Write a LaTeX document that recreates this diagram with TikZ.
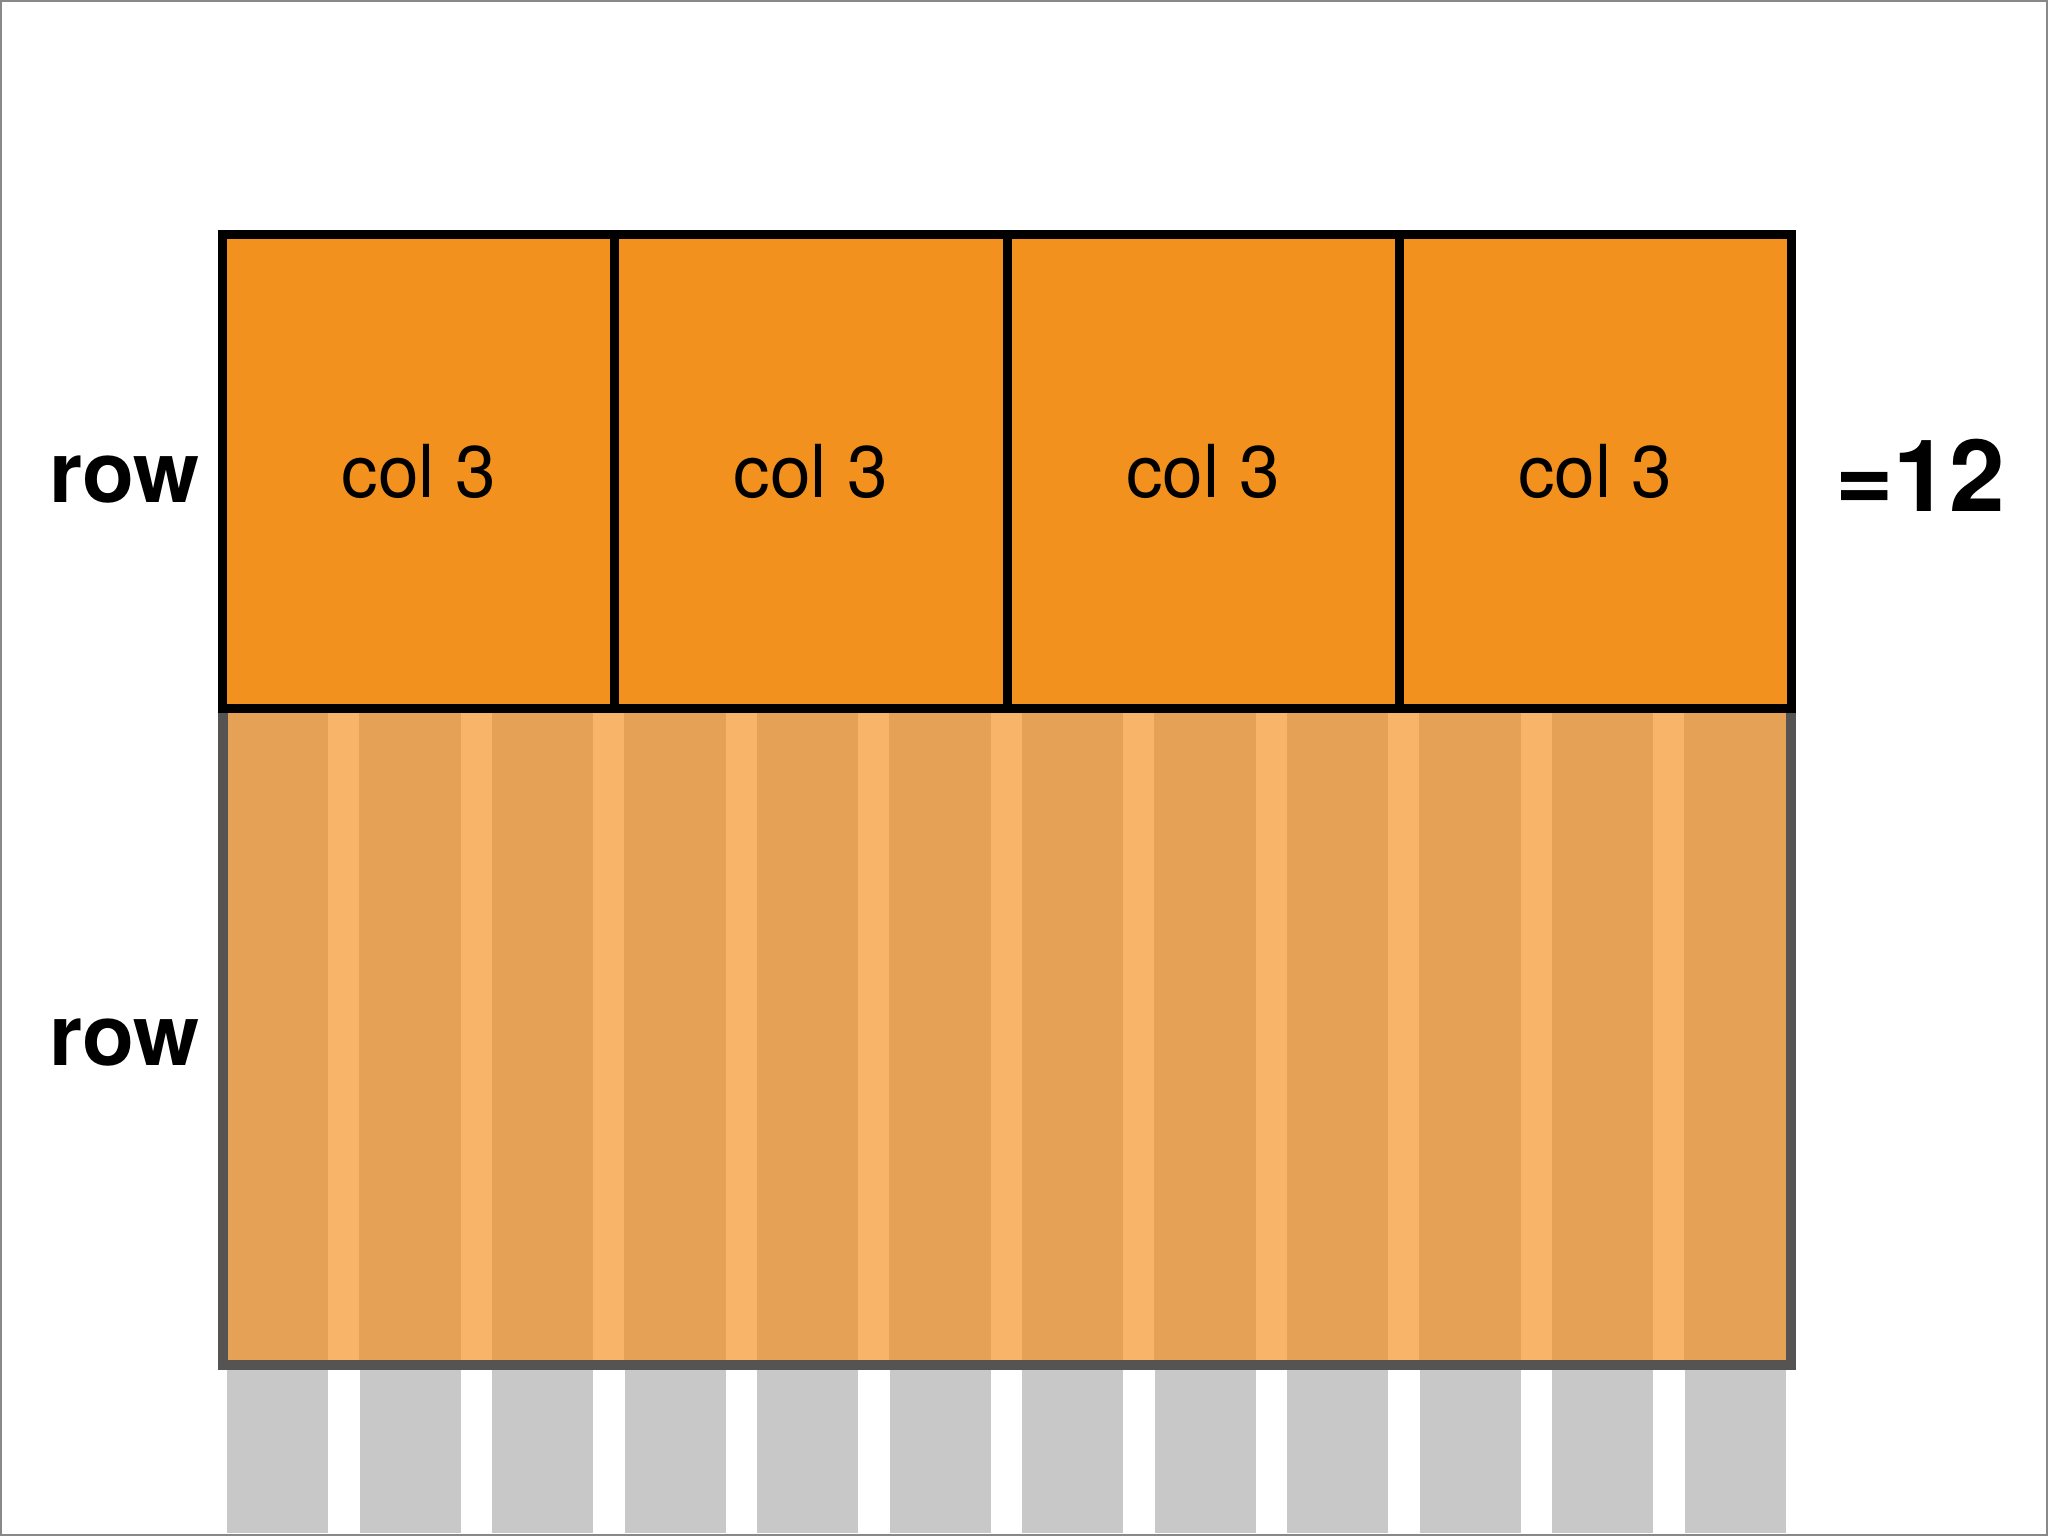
\documentclass[tikz,border=0pt]{standalone}
\usepackage{fontspec}
\setmainfont{TeX Gyre Heros}
\definecolor{topor}{HTML}{F2911D}
\definecolor{lowfill}{HTML}{E5A256}
\definecolor{lowstripe}{HTML}{F8B468}
\definecolor{colgray}{HTML}{C8C8C8}
\definecolor{lowborder}{HTML}{565453}
\definecolor{framegray}{HTML}{888888}
\tikzset{
  cell/.style={draw=black, fill=topor, line width=4.5pt, minimum width=196.1pt, minimum height=237pt, inner sep=0pt, font=\fontsize{36.5}{40}\selectfont},
  rowlab/.style={inner sep=0pt, font=\bfseries\fontsize{42.5}{46}\selectfont},
  sumlab/.style={inner sep=0pt, font=\bfseries\fontsize{50}{54}\selectfont}
}
\begin{document}
\begin{tikzpicture}[x=0.5pt,y=-0.5pt]
\useasboundingbox (0,0) rectangle (2048,1536);
\fill[white] (0,0) rectangle (2048,1536);
% grey columns below
\foreach \k in {0,...,11}
  \fill[colgray] ({227+132.5*\k},1365) rectangle ({328+132.5*\k},1533);
% lower translucent block
\fill[lowfill] (228,708) rectangle (1786,1360);
\foreach \k in {0,...,10}
  \fill[lowstripe] ({328+132.5*\k},708) rectangle ({359+132.5*\k},1360);
\draw[lowborder, line width=5pt, line join=miter] (223,708) -- (223,1364.5) -- (1791,1364.5) -- (1791,708);
% top row cells
\node[cell] (c1) at (418.6,471) {col 3};
\node[cell] (c2) at (810.9,471) {col 3};
\node[cell] (c3) at (1203.1,471) {col 3};
\node[cell] (c4) at (1595.4,471) {col 3};
% labels
\node[rowlab] (r1) at (124.5,479.5) {row};
\node[rowlab] (r2) at (124.5,1043) {row};
\node[sumlab] (sum) at (1920,475.5) {=12};
% frame
\draw[framegray, line width=1pt] (1,1) rectangle (2047,1535);
\end{tikzpicture}
\end{document}
